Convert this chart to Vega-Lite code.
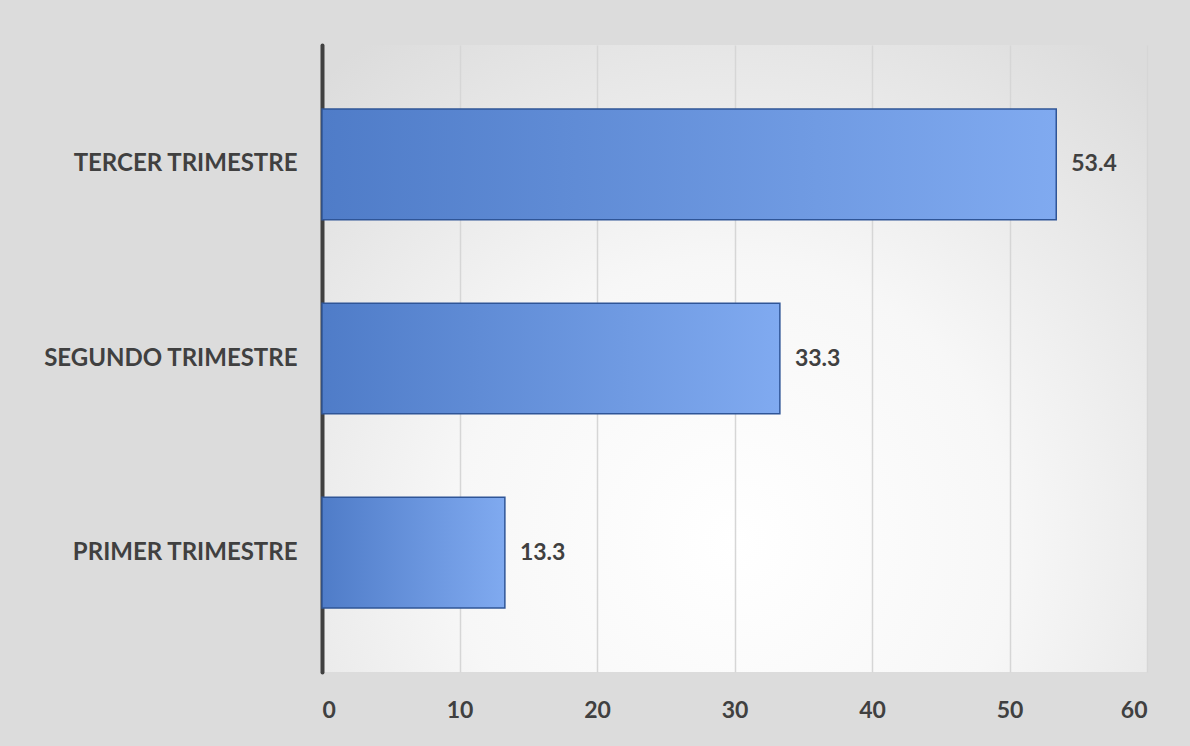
{
  "$schema": "https://vega.github.io/schema/vega-lite/v6.json",
  "width": 825,
  "height": 627,
  "autosize": {"type": "none"},
  "padding": {"left": 322, "top": 45, "right": 43, "bottom": 74},
  "background": "#dcdcdc",
  "config": {
    "view": {
      "stroke": null,
      "fill": {
        "gradient": "radial",
        "x1": 0.5, "y1": 0.72, "r1": 0,
        "x2": 0.5, "y2": 0.72, "r2": 0.75,
        "stops": [
          {"offset": 0, "color": "#ffffff"},
          {"offset": 0.45, "color": "#f7f7f7"},
          {"offset": 1, "color": "#dcdcdc"}
        ]
      }
    },
    "font": "Lato"
  },
  "data": {
    "values": [
      {"trimestre": "TERCER TRIMESTRE", "valor": 53.4},
      {"trimestre": "SEGUNDO TRIMESTRE", "valor": 33.3},
      {"trimestre": "PRIMER TRIMESTRE", "valor": 13.3}
    ]
  },
  "encoding": {
    "y": {
      "field": "trimestre",
      "type": "nominal",
      "sort": ["TERCER TRIMESTRE", "SEGUNDO TRIMESTRE", "PRIMER TRIMESTRE"],
      "scale": {"paddingInner": 0.43, "paddingOuter": 0.33},
      "axis": {
        "title": null,
        "ticks": false,
        "labelPadding": 25,
        "labelLimit": 0,
        "labelFontSize": 24,
        "labelFontWeight": "bold",
        "labelColor": "#404040",
        "labelFont": "Lato",
        "domainColor": "#404040",
        "domainWidth": 4,
        "domainCap": "round",
        "grid": false
      }
    },
    "x": {
      "field": "valor",
      "type": "quantitative",
      "scale": {"domain": [0, 60], "nice": false},
      "axis": {
        "title": null,
        "values": [0, 10, 20, 30, 40, 50, 60],
        "ticks": false,
        "domain": false,
        "labelPadding": 27,
        "labelFontSize": 23,
        "labelFontWeight": "bold",
        "labelColor": "#404040",
        "labelFont": "Lato",
        "grid": true,
        "gridColor": "#d6d6d6",
        "gridWidth": 1.5
      }
    }
  },
  "layer": [
    {
      "mark": {
        "type": "bar",
        "stroke": "#2f5597",
        "strokeWidth": 1.5,
        "fill": {
          "gradient": "linear",
          "x1": 0, "y1": 0.5, "x2": 1, "y2": 0.5,
          "stops": [
            {"offset": 0, "color": "#4f7cc8"},
            {"offset": 1, "color": "#80aaf0"}
          ]
        }
      }
    },
    {
      "mark": {
        "type": "text",
        "align": "left",
        "baseline": "middle",
        "dx": 15,
        "fontSize": 23,
        "fontWeight": "bold",
        "color": "#404040",
        "font": "Lato"
      },
      "encoding": {
        "text": {"field": "valor", "type": "quantitative", "format": ".1f"}
      }
    }
  ]
}
